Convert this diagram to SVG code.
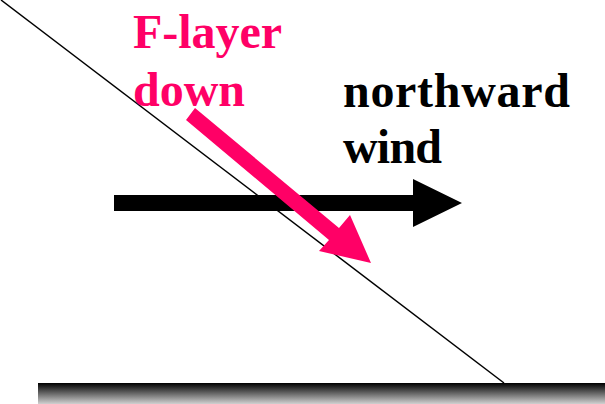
<svg xmlns="http://www.w3.org/2000/svg" width="605" height="404" viewBox="0 0 605 404">
<defs>
<linearGradient id="ground" x1="0" y1="0" x2="0" y2="1">
<stop offset="0" stop-color="#000"/>
<stop offset="1" stop-color="#d0d0d0"/>
</linearGradient>
<style>
.lbl{font-family:"Liberation Serif","Times New Roman",serif;font-weight:bold;font-size:48px}
</style>
</defs>
<rect id="ground-bar" x="38" y="383" width="567" height="21" fill="url(#ground)"/>
<g id="connectors">
<line id="slope" x1="1" y1="0" x2="504" y2="383" stroke="#000" stroke-width="1.5"/>
<polygon id="wind-arrow" points="114,195 413,195 413,179 462,203 413,227 413,211 114,211" fill="#000"/>
<polygon id="down-arrow" points="195,108 339,228 350,215 371,263 319,251 329,240 186,120" fill="#FF0066"/>
</g>
<g id="f-layer-label">
<text class="lbl" fill="#FF0066" x="133" y="48" textLength="149" lengthAdjust="spacing">F-layer</text>
<text class="lbl" fill="#FF0066" x="133" y="106" textLength="112" lengthAdjust="spacing">down</text>
</g>
<g id="wind-label">
<text class="lbl" fill="#000" x="343" y="107" textLength="227" lengthAdjust="spacing">northward</text>
<text class="lbl" fill="#000" x="343" y="163" textLength="99" lengthAdjust="spacing">wind</text>
</g>
</svg>
